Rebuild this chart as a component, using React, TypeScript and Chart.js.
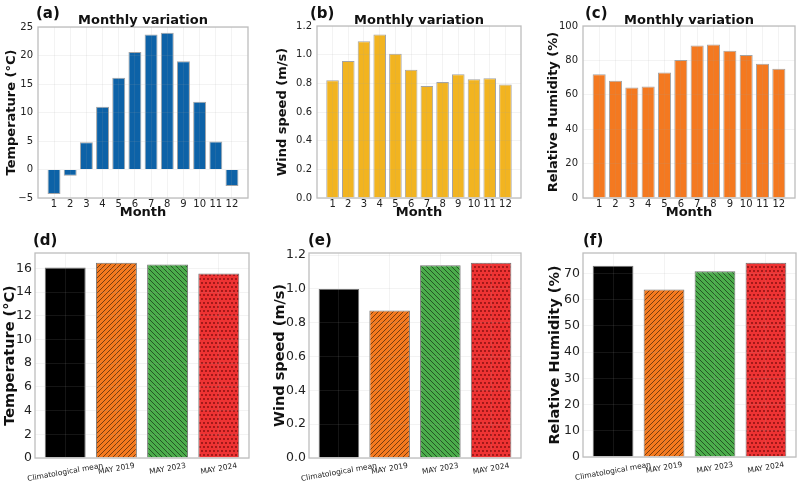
import React, { useEffect, useRef } from "react";
import { Chart, registerables } from "chart.js";
Chart.register(...registerables);

const FONT = '"DejaVu Sans", "Liberation Sans", sans-serif';

// ---------------- data ----------------
const months = [1, 2, 3, 4, 5, 6, 7, 8, 9, 10, 11, 12];
const monthlyTemperature = [-4.3, -1.1, 4.8, 11.0, 16.1, 20.6, 23.7, 24.0, 19.0, 11.9, 4.9, -2.9];
const monthlyWindSpeed = [0.822, 0.956, 1.093, 1.14, 1.006, 0.894, 0.782, 0.81, 0.864, 0.829, 0.836, 0.792];
const monthlyHumidity = [72.0, 68.2, 64.3, 64.8, 73.0, 80.2, 88.6, 89.2, 85.6, 83.2, 78.0, 75.2];

const periods = ["Climatological mean", "MAY 2019", "MAY 2023", "MAY 2024"];
const mayTemperature = [16.08, 16.47, 16.33, 15.57];
const mayWindSpeed = [1.0, 0.872, 1.141, 1.155];
const mayHumidity = [72.9, 63.9, 70.8, 74.1];

const periodColors = ["#000000", "#f57a1f", "#4bac4b", "#ee3333"];
const periodHatches = ["", "/", "\\", "."];

// ---------------- helpers ----------------
type Frame = { x: number; y: number; w: number; h: number; pl: number; pr: number; pt: number; pb: number };

function makePattern(bg: string, kind: string): CanvasPattern | string {
  if (!kind) return bg;
  const s = kind === "." ? 8 : 5;
  const c = document.createElement("canvas");
  c.width = s;
  c.height = s;
  const g = c.getContext("2d")!;
  g.fillStyle = bg;
  g.fillRect(0, 0, s, s);
  g.strokeStyle = "rgba(0,0,0,0.5)";
  g.fillStyle = "rgba(90,0,0,0.75)";
  g.lineWidth = 1;
  if (kind === "/") {
    for (let k = -1; k <= 1; k++) {
      g.beginPath();
      g.moveTo(k * s, s);
      g.lineTo(k * s + s, 0);
      g.stroke();
    }
  } else if (kind === "\\") {
    for (let k = -1; k <= 1; k++) {
      g.beginPath();
      g.moveTo(k * s, 0);
      g.lineTo(k * s + s, s);
      g.stroke();
    }
  } else {
    const pts = [[2, 2], [6, 2], [0, 6], [4, 6], [8, 6]];
    pts.forEach(([px, py]) => {
      g.beginPath();
      g.arc(px, py, 0.9, 0, Math.PI * 2);
      g.fill();
    });
  }
  return g.createPattern(c, "repeat")!;
}

const decoPlugin = {
  id: "deco",
  afterDraw(chart: any, _args: any, opts: any) {
    const { ctx, chartArea: ca } = chart;
    ctx.save();
    ctx.strokeStyle = "#bdbdbd";
    ctx.lineWidth = 1.3;
    ctx.strokeRect(ca.left, ca.top, ca.right - ca.left, ca.bottom - ca.top);
    ctx.fillStyle = "#111";
    ctx.textAlign = "left";
    ctx.textBaseline = "alphabetic";
    ctx.font = `bold 15px ${FONT}`;
    ctx.fillText(opts.label, opts.labelX, opts.labelY);
    if (opts.title) {
      ctx.font = `bold 13px ${FONT}`;
      ctx.textAlign = "center";
      ctx.fillText(opts.title, (ca.left + ca.right) / 2, opts.titleY);
    }
    if (opts.cats) {
      const xs = chart.scales.x;
      const size = 7.5;
      ctx.font = `${size}px ${FONT}`;
      ctx.fillStyle = "#222";
      const ang = (10 * Math.PI) / 180;
      opts.cats.forEach((t: string, i: number) => {
        const px = xs.getPixelForValue(i);
        const w = ctx.measureText(t).width;
        const bh = w * Math.sin(ang) + size * Math.cos(ang);
        const cy = ca.bottom + 4 + bh / 2;
        ctx.save();
        ctx.translate(px, cy);
        ctx.rotate(-ang);
        ctx.textAlign = "center";
        ctx.textBaseline = "middle";
        ctx.fillText(t, 0, 0);
        ctx.restore();
      });
    }
    ctx.restore();
  },
};

const gridOpts = { color: "rgba(160,160,160,0.13)", z: 1, drawTicks: false, lineWidth: 1, offset: false };

type TopSpec = {
  frame: Frame;
  values: number[];
  color: string;
  yMin: number;
  yMax: number;
  step: number;
  decimals: number;
  yTitle: string;
  yTitlePad: number;
  label: string;
  labelX: number;
};

function topConfig(s: TopSpec): any {
  const f = s.frame;
  return {
    type: "bar",
    data: {
      datasets: [
        {
          data: months.map((m, i) => ({ x: m, y: s.values[i] })),
          backgroundColor: s.color,
          borderColor: "rgba(90,90,90,0.55)",
          borderWidth: 1,
          barPercentage: 1,
          categoryPercentage: 0.8,
        },
      ],
    },
    options: {
      animation: false,
      responsive: false,
      events: [],
      layout: { padding: { top: f.pt - f.y, right: f.x + f.w - f.pr, left: 0, bottom: 0 } },
      plugins: {
        legend: { display: false },
        tooltip: { enabled: false },
        deco: { label: s.label, labelX: s.labelX, labelY: 18, title: "Monthly variation", titleY: 24 },
      },
      scales: {
        x: {
          type: "linear",
          offset: false,
          min: 0.01,
          max: 12.99,
          afterBuildTicks: (sc: any) => {
            sc.ticks = months.map((v) => ({ value: v }));
          },
          afterFit: (sc: any) => {
            sc.height = f.y + f.h - f.pb;
          },
          ticks: {
            callback: (v: any) => String(v),
            font: { family: FONT, size: 10 },
            color: "#222",
            padding: 0,
            maxRotation: 0,
            autoSkip: false,
          },
          grid: gridOpts,
          border: { display: false },
          title: {
            display: true,
            text: "Month",
            font: { family: FONT, size: 13, weight: "bold" },
            color: "#111",
            padding: { top: 0, bottom: 4.2 },
          },
        },
        y: {
          type: "linear",
          min: s.yMin,
          max: s.yMax,
          afterFit: (sc: any) => {
            sc.width = f.pl - f.x;
          },
          ticks: {
            stepSize: s.step,
            callback: (v: any) => Number(v).toFixed(s.decimals).replace("-", "\u2212"),
            font: { family: FONT, size: 10 },
            color: "#222",
            padding: 5,
          },
          grid: gridOpts,
          border: { display: false },
          title: {
            display: true,
            text: s.yTitle,
            font: { family: FONT, size: 13, weight: "bold" },
            color: "#111",
            padding: { top: s.yTitlePad, bottom: 0 },
          },
        },
      },
    },
    plugins: [decoPlugin],
  };
}

type BottomSpec = {
  frame: Frame;
  values: number[];
  step: number;
  decimals: number;
  yTitle: string;
  yTitlePad: number;
  label: string;
  labelX: number;
};

function bottomConfig(s: BottomSpec): any {
  const f = s.frame;
  const yMax = Math.max(...s.values) * 1.05;
  const idx = periods.map((_, i) => i);
  return {
    type: "bar",
    data: {
      datasets: [
        {
          data: idx.map((i) => ({ x: i, y: s.values[i] })),
          backgroundColor: periodColors.map((c, i) => makePattern(c, periodHatches[i])),
          borderColor: "rgba(0,0,0,0.55)",
          borderWidth: 1,
          barPercentage: 1,
          categoryPercentage: 0.8,
        },
      ],
    },
    options: {
      animation: false,
      responsive: false,
      events: [],
      layout: { padding: { top: f.pt - f.y, right: f.x + f.w - f.pr, left: 0, bottom: 0 } },
      plugins: {
        legend: { display: false },
        tooltip: { enabled: false },
        deco: { label: s.label, labelX: s.labelX, labelY: 20, cats: periods },
      },
      scales: {
        x: {
          type: "linear",
          offset: false,
          min: -0.59,
          max: 3.59,
          afterBuildTicks: (sc: any) => {
            sc.ticks = idx.map((v) => ({ value: v }));
          },
          afterFit: (sc: any) => {
            sc.height = f.y + f.h - f.pb;
          },
          ticks: { display: false },
          grid: gridOpts,
          border: { display: false },
        },
        y: {
          type: "linear",
          min: 0,
          max: yMax,
          afterBuildTicks: (sc: any) => {
            const n = Math.floor(yMax / s.step + 1e-9);
            const list: { value: number }[] = [];
            for (let k = 0; k <= n; k++) list.push({ value: k * s.step });
            sc.ticks = list;
          },
          afterFit: (sc: any) => {
            sc.width = f.pl - f.x;
          },
          ticks: {
            stepSize: s.step,
            callback: (v: any) => Number(v).toFixed(s.decimals),
            font: { family: FONT, size: 12.5 },
            color: "#222",
            padding: 3,
          },
          grid: gridOpts,
          border: { display: false },
          title: {
            display: true,
            text: s.yTitle,
            font: { family: FONT, size: 14.5, weight: "bold" },
            color: "#111",
            padding: { top: s.yTitlePad, bottom: 0 },
          },
        },
      },
    },
    plugins: [decoPlugin],
  };
}

// ---------------- panels ----------------
const frameA: Frame = { x: 0, y: 0, w: 265, h: 225, pl: 38, pr: 248, pt: 27, pb: 198 };
const frameB: Frame = { x: 265, y: 0, w: 265, h: 225, pl: 317, pr: 521, pt: 26, pb: 198 };
const frameC: Frame = { x: 530, y: 0, w: 270, h: 225, pl: 583, pr: 795, pt: 26, pb: 198 };
const frameD: Frame = { x: 0, y: 225, w: 265, h: 263, pl: 35, pr: 249, pt: 253, pb: 458 };
const frameE: Frame = { x: 265, y: 225, w: 265, h: 263, pl: 309, pr: 521, pt: 253, pb: 458 };
const frameF: Frame = { x: 530, y: 225, w: 270, h: 263, pl: 583, pr: 796, pt: 253, pb: 457 };

const panels: { frame: Frame; build: () => any }[] = [
  {
    frame: frameA,
    build: () =>
      topConfig({ frame: frameA, values: monthlyTemperature, color: "#0d62a7", yMin: -5, yMax: 25, step: 5, decimals: 0, yTitle: "Temperature (°C)", yTitlePad: 4.2, label: "(a)", labelX: 36 }),
  },
  {
    frame: frameB,
    build: () =>
      topConfig({ frame: frameB, values: monthlyWindSpeed, color: "#f2b420", yMin: 0, yMax: 1.2, step: 0.2, decimals: 1, yTitle: "Wind speed (m/s)", yTitlePad: 10, label: "(b)", labelX: 45 }),
  },
  {
    frame: frameC,
    build: () =>
      topConfig({ frame: frameC, values: monthlyHumidity, color: "#f47920", yMin: 0, yMax: 100, step: 20, decimals: 0, yTitle: "Relative Humidity (%)", yTitlePad: 16, label: "(c)", labelX: 55 }),
  },
  {
    frame: frameD,
    build: () => bottomConfig({ frame: frameD, values: mayTemperature, step: 2, decimals: 0, yTitle: "Temperature (°C)", yTitlePad: 1.8, label: "(d)", labelX: 33 }),
  },
  {
    frame: frameE,
    build: () => bottomConfig({ frame: frameE, values: mayWindSpeed, step: 0.2, decimals: 1, yTitle: "Wind speed (m/s)", yTitlePad: 6.3, label: "(e)", labelX: 43 }),
  },
  {
    frame: frameF,
    build: () => bottomConfig({ frame: frameF, values: mayHumidity, step: 10, decimals: 0, yTitle: "Relative Humidity (%)", yTitlePad: 16.3, label: "(f)", labelX: 53 }),
  },
];

function Panel({ frame, build }: { frame: Frame; build: () => any }) {
  const ref = useRef<HTMLCanvasElement>(null);
  useEffect(() => {
    const chart = new Chart(ref.current!, build());
    return () => chart.destroy();
  }, []);
  return (
    <canvas
      ref={ref}
      width={frame.w}
      height={frame.h}
      style={{ position: "absolute", left: frame.x, top: frame.y, width: frame.w, height: frame.h }}
    />
  );
}

export default function App() {
  return (
    <div style={{ position: "absolute", left: 0, top: 0, width: 800, height: 488, background: "#fff", overflow: "hidden" }}>
      {panels.map((p, i) => (
        <Panel key={i} frame={p.frame} build={p.build} />
      ))}
    </div>
  );
}
